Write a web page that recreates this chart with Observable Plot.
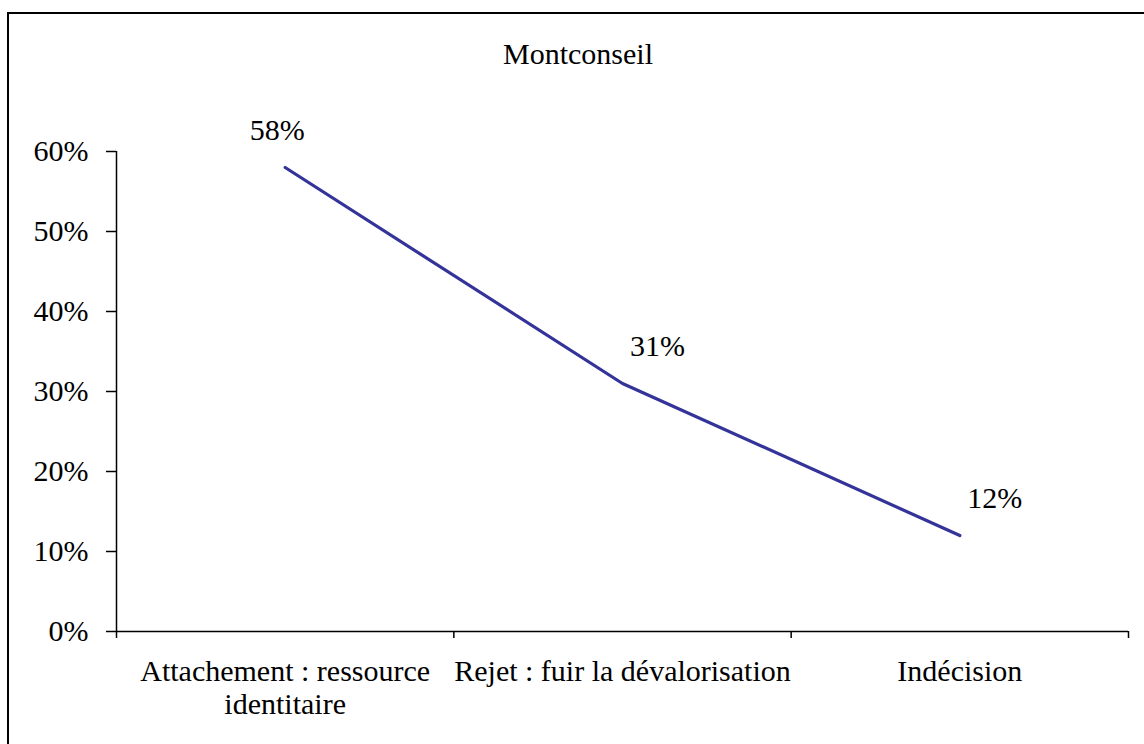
<!DOCTYPE html>
<html>
<head>
<meta charset="utf-8">
<script src="https://cdn.jsdelivr.net/npm/d3@7"></script>
<script src="https://cdn.jsdelivr.net/npm/@observablehq/plot@0.6"></script>
<style>
  html, body { margin: 0; padding: 0; background: #fff; }
  #page { position: relative; width: 1144px; height: 744px; overflow: hidden; font-family: "Liberation Serif", "Times New Roman", serif; }
  #frame { position: absolute; left: 7px; top: 12px; width: 1200px; height: 800px; border-left: 2px solid #000; border-top: 2px solid #000; box-sizing: border-box; }
  #title { position: absolute; left: 7px; width: 1142px; top: 36px; text-align: center; font-size: 30px; line-height: 36px; color: #000; }
  #chart { position: absolute; left: 0; top: 0; }
</style>
</head>
<body>
<div id="page">
  <div id="frame"></div>
  <div id="chart"></div>
  <div id="title">Montconseil</div>
</div>
<script>
// Response categories and their shares (Montconseil)
const categories = ["Attachement : ressource\nidentitaire", "Rejet : fuir la dévalorisation", "Indécision"];
const shares = [0.58, 0.31, 0.12];
const yTicks = [0, 0.1, 0.2, 0.3, 0.4, 0.5, 0.6];

const rows = categories.map((c, i) => ({pos: i + 0.5, label: c, share: shares[i]}));
const boundaries = d3.range(categories.length + 1);
const fmt = d3.format(".0%");
const lineColor = "#333399";

const chart = Plot.plot({
  width: 1144,
  height: 744,
  marginTop: 151,
  marginBottom: 113,
  marginLeft: 116,
  marginRight: 16,
  style: {fontFamily: "Liberation Serif, Times New Roman, serif", fontSize: "30px", color: "#000", background: "transparent", overflow: "visible"},
  x: {domain: [0, categories.length], label: null},
  y: {domain: [0, 0.6], label: null},
  marks: [
    // y axis line, ticks and percentage labels
    Plot.ruleX([0], {y1: 0, y2: 0.6, stroke: "#000", strokeWidth: 1.5}),
    Plot.axisY({ticks: yTicks, tickFormat: fmt, tickSize: 10, tickPadding: 18, stroke: "#000", strokeWidth: 1.5, fontSize: 30, fill: "#000", label: null}),
    // x axis line with ticks at category boundaries
    Plot.ruleY([0], {stroke: "#000", strokeWidth: 1.5}),
    Plot.axisX({ticks: boundaries, tickFormat: () => "", tickSize: 7, stroke: "#000", strokeWidth: 1.5, label: null}),
    Plot.axisX({ticks: rows.map(d => d.pos), tickFormat: (v) => categories[Math.floor(v)], tickSize: 0, tickPadding: 26, fontSize: 30, fill: "#000", lineHeight: 1.1, label: null}),
    // the series line
    Plot.line(rows, {x: "pos", y: "share", stroke: lineColor, strokeWidth: 3.2}),
    // value labels
    Plot.text(rows.slice(0, 1), {x: "pos", y: "share", text: d => fmt(d.share), dx: -8, dy: -37, fontSize: 30, fill: "#000"}),
    Plot.text(rows.slice(1), {x: "pos", y: "share", text: d => fmt(d.share), dx: 35, dy: -37, fontSize: 30, fill: "#000"})
  ]
});
document.getElementById("chart").appendChild(chart);
</script>
</body>
</html>
